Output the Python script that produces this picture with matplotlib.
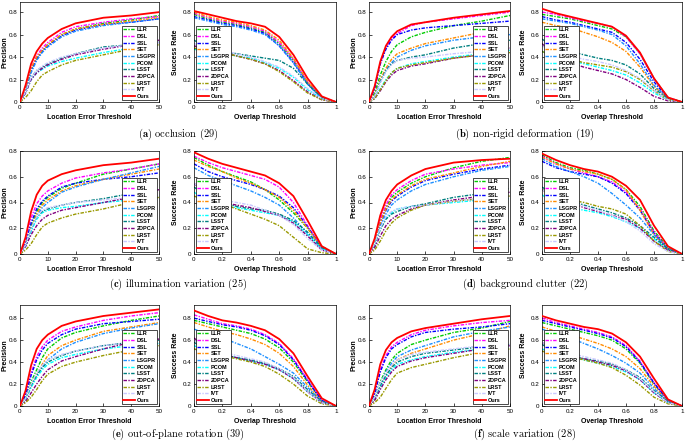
import matplotlib
matplotlib.use('Agg')
import matplotlib.pyplot as plt

plt.rcParams['font.family'] = ['Liberation Sans', 'DejaVu Sans']
plt.rcParams['mathtext.fontset'] = 'cm'

methods = ['LLR', 'DSL', 'SSL', 'SET', 'LSGPR', 'PCOM', 'LSST', '2DPCA', 'LRST', 'IVT', 'Ours']
colors = ['#00cc00', '#ff00ff', '#0000ff', '#ff8c00', '#1e90ff', '#00ffff',
          '#008080', '#800080', '#999900', '#c8c8ff', '#ff0000']

# sample positions of the curves
prec_x = [0, 2, 4, 6, 8, 10, 15, 20, 30, 40, 50]
succ_x = [0, 0.1, 0.2, 0.3, 0.4, 0.5, 0.6, 0.7, 0.8, 0.9, 1.0]

# ---- (a) occlusion
prec_a = {
    'LLR':   [0, 0.10, 0.28, 0.39, 0.46, 0.51, 0.60, 0.65, 0.70, 0.73, 0.77],
    'DSL':   [0, 0.11, 0.30, 0.41, 0.48, 0.53, 0.62, 0.67, 0.71, 0.74, 0.76],
    'SSL':   [0, 0.10, 0.28, 0.38, 0.45, 0.50, 0.59, 0.64, 0.69, 0.71, 0.74],
    'SET':   [0, 0.12, 0.30, 0.40, 0.46, 0.51, 0.60, 0.65, 0.69, 0.72, 0.75],
    'LSGPR': [0, 0.09, 0.26, 0.37, 0.44, 0.49, 0.58, 0.63, 0.68, 0.71, 0.74],
    'PCOM':  [0, 0.08, 0.20, 0.26, 0.29, 0.32, 0.36, 0.39, 0.44, 0.48, 0.51],
    'LSST':  [0, 0.09, 0.22, 0.28, 0.31, 0.34, 0.39, 0.43, 0.49, 0.51, 0.53],
    '2DPCA': [0, 0.08, 0.20, 0.26, 0.30, 0.33, 0.38, 0.42, 0.47, 0.51, 0.55],
    'LRST':  [0, 0.04, 0.10, 0.18, 0.24, 0.27, 0.33, 0.37, 0.42, 0.47, 0.51],
    'IVT':   [0, 0.09, 0.22, 0.28, 0.32, 0.35, 0.40, 0.43, 0.48, 0.51, 0.53],
    'Ours':  [0, 0.15, 0.34, 0.45, 0.52, 0.57, 0.65, 0.70, 0.75, 0.77, 0.80],
}
succ_a = {
    'LLR':   [0.78, 0.74, 0.71, 0.69, 0.66, 0.62, 0.52, 0.37, 0.17, 0.04, 0],
    'DSL':   [0.79, 0.75, 0.72, 0.70, 0.67, 0.63, 0.53, 0.38, 0.18, 0.04, 0],
    'SSL':   [0.76, 0.73, 0.70, 0.68, 0.65, 0.61, 0.50, 0.35, 0.16, 0.03, 0],
    'SET':   [0.80, 0.76, 0.73, 0.71, 0.68, 0.64, 0.55, 0.39, 0.18, 0.04, 0],
    'LSGPR': [0.75, 0.72, 0.69, 0.67, 0.64, 0.60, 0.50, 0.35, 0.16, 0.03, 0],
    'PCOM':  [0.47, 0.44, 0.43, 0.41, 0.39, 0.35, 0.30, 0.22, 0.11, 0.03, 0],
    'LSST':  [0.55, 0.48, 0.45, 0.43, 0.41, 0.39, 0.37, 0.30, 0.16, 0.04, 0],
    '2DPCA': [0.50, 0.46, 0.44, 0.41, 0.38, 0.34, 0.28, 0.19, 0.09, 0.02, 0],
    'LRST':  [0.48, 0.45, 0.44, 0.41, 0.38, 0.34, 0.27, 0.18, 0.08, 0.02, 0],
    'IVT':   [0.52, 0.48, 0.46, 0.43, 0.40, 0.36, 0.31, 0.23, 0.12, 0.03, 0],
    'Ours':  [0.81, 0.78, 0.75, 0.72, 0.70, 0.67, 0.58, 0.42, 0.21, 0.05, 0],
}

# ---- (b) non-rigid deformation
prec_b = {
    'LLR':   [0, 0.08, 0.24, 0.36, 0.45, 0.51, 0.58, 0.62, 0.68, 0.72, 0.77],
    'DSL':   [0, 0.12, 0.34, 0.48, 0.56, 0.61, 0.68, 0.71, 0.74, 0.77, 0.80],
    'SSL':   [0, 0.12, 0.34, 0.47, 0.55, 0.60, 0.64, 0.66, 0.68, 0.70, 0.72],
    'SET':   [0, 0.06, 0.20, 0.30, 0.38, 0.43, 0.48, 0.52, 0.57, 0.62, 0.66],
    'LSGPR': [0, 0.05, 0.18, 0.28, 0.35, 0.40, 0.46, 0.50, 0.55, 0.58, 0.60],
    'PCOM':  [0, 0.03, 0.12, 0.20, 0.26, 0.30, 0.34, 0.36, 0.40, 0.43, 0.46],
    'LSST':  [0, 0.05, 0.18, 0.28, 0.34, 0.37, 0.40, 0.42, 0.48, 0.52, 0.55],
    '2DPCA': [0, 0.03, 0.10, 0.18, 0.24, 0.28, 0.32, 0.34, 0.39, 0.42, 0.48],
    'LRST':  [0, 0.03, 0.11, 0.19, 0.26, 0.30, 0.33, 0.35, 0.39, 0.42, 0.44],
    'IVT':   [0, 0.05, 0.17, 0.27, 0.33, 0.37, 0.39, 0.40, 0.43, 0.45, 0.47],
    'Ours':  [0, 0.14, 0.36, 0.50, 0.58, 0.63, 0.69, 0.71, 0.75, 0.78, 0.81],
}
succ_b = {
    'LLR':   [0.78, 0.76, 0.74, 0.71, 0.68, 0.65, 0.58, 0.43, 0.21, 0.04, 0],
    'DSL':   [0.80, 0.78, 0.75, 0.72, 0.70, 0.67, 0.58, 0.43, 0.21, 0.04, 0],
    'SSL':   [0.76, 0.73, 0.71, 0.68, 0.65, 0.62, 0.53, 0.38, 0.18, 0.03, 0],
    'SET':   [0.71, 0.68, 0.66, 0.62, 0.58, 0.53, 0.45, 0.31, 0.14, 0.03, 0],
    'LSGPR': [0.74, 0.72, 0.70, 0.67, 0.64, 0.60, 0.50, 0.34, 0.15, 0.03, 0],
    'PCOM':  [0.45, 0.40, 0.37, 0.34, 0.31, 0.28, 0.24, 0.17, 0.08, 0.02, 0],
    'LSST':  [0.56, 0.48, 0.45, 0.42, 0.39, 0.37, 0.33, 0.25, 0.12, 0.03, 0],
    '2DPCA': [0.52, 0.40, 0.35, 0.31, 0.28, 0.25, 0.20, 0.13, 0.05, 0.01, 0],
    'LRST':  [0.45, 0.40, 0.38, 0.35, 0.33, 0.31, 0.27, 0.20, 0.10, 0.02, 0],
    'IVT':   [0.50, 0.44, 0.41, 0.38, 0.36, 0.33, 0.28, 0.21, 0.10, 0.02, 0],
    'Ours':  [0.83, 0.79, 0.76, 0.73, 0.70, 0.67, 0.59, 0.44, 0.21, 0.04, 0],
}

# ---- (c) illumination variation
prec_c = {
    'LLR':   [0, 0.08, 0.22, 0.33, 0.40, 0.44, 0.51, 0.55, 0.62, 0.66, 0.70],
    'DSL':   [0, 0.10, 0.28, 0.39, 0.45, 0.49, 0.55, 0.59, 0.63, 0.66, 0.70],
    'SSL':   [0, 0.08, 0.24, 0.35, 0.41, 0.45, 0.52, 0.55, 0.58, 0.60, 0.63],
    'SET':   [0, 0.07, 0.20, 0.31, 0.38, 0.42, 0.49, 0.53, 0.58, 0.62, 0.66],
    'LSGPR': [0, 0.06, 0.18, 0.29, 0.36, 0.40, 0.48, 0.52, 0.58, 0.63, 0.68],
    'PCOM':  [0, 0.06, 0.18, 0.27, 0.32, 0.34, 0.36, 0.37, 0.40, 0.42, 0.44],
    'LSST':  [0, 0.07, 0.20, 0.29, 0.33, 0.35, 0.38, 0.40, 0.43, 0.47, 0.50],
    '2DPCA': [0, 0.06, 0.15, 0.22, 0.27, 0.30, 0.34, 0.36, 0.40, 0.44, 0.50],
    'LRST':  [0, 0.03, 0.08, 0.15, 0.21, 0.24, 0.28, 0.31, 0.35, 0.40, 0.44],
    'IVT':   [0, 0.07, 0.20, 0.29, 0.34, 0.36, 0.38, 0.40, 0.42, 0.44, 0.45],
    'Ours':  [0, 0.13, 0.33, 0.46, 0.53, 0.57, 0.62, 0.65, 0.69, 0.71, 0.74],
}
succ_c = {
    'LLR':   [0.75, 0.69, 0.64, 0.60, 0.56, 0.50, 0.42, 0.32, 0.20, 0.06, 0],
    'DSL':   [0.76, 0.71, 0.67, 0.64, 0.61, 0.58, 0.52, 0.40, 0.22, 0.05, 0],
    'SSL':   [0.70, 0.64, 0.60, 0.57, 0.54, 0.50, 0.45, 0.36, 0.21, 0.05, 0],
    'SET':   [0.73, 0.68, 0.64, 0.59, 0.55, 0.50, 0.44, 0.34, 0.20, 0.05, 0],
    'LSGPR': [0.67, 0.61, 0.57, 0.53, 0.49, 0.44, 0.38, 0.28, 0.16, 0.04, 0],
    'PCOM':  [0.48, 0.41, 0.38, 0.36, 0.34, 0.32, 0.30, 0.25, 0.15, 0.04, 0],
    'LSST':  [0.52, 0.44, 0.40, 0.37, 0.35, 0.34, 0.31, 0.26, 0.17, 0.05, 0],
    '2DPCA': [0.55, 0.44, 0.40, 0.38, 0.36, 0.33, 0.30, 0.24, 0.14, 0.03, 0],
    'LRST':  [0.45, 0.41, 0.39, 0.35, 0.31, 0.27, 0.22, 0.13, 0.04, 0.01, 0],
    'IVT':   [0.55, 0.46, 0.42, 0.40, 0.38, 0.34, 0.30, 0.23, 0.12, 0.03, 0],
    'Ours':  [0.79, 0.74, 0.70, 0.67, 0.64, 0.61, 0.55, 0.45, 0.26, 0.06, 0],
}

# ---- (d) background clutter
prec_d = {
    'LLR':   [0, 0.09, 0.25, 0.36, 0.44, 0.48, 0.55, 0.60, 0.67, 0.72, 0.75],
    'DSL':   [0, 0.10, 0.27, 0.38, 0.46, 0.50, 0.57, 0.62, 0.66, 0.69, 0.71],
    'SSL':   [0, 0.08, 0.23, 0.34, 0.41, 0.45, 0.52, 0.57, 0.62, 0.66, 0.69],
    'SET':   [0, 0.09, 0.24, 0.35, 0.42, 0.46, 0.53, 0.58, 0.63, 0.68, 0.72],
    'LSGPR': [0, 0.07, 0.21, 0.31, 0.38, 0.42, 0.49, 0.54, 0.60, 0.65, 0.68],
    'PCOM':  [0, 0.08, 0.20, 0.28, 0.32, 0.35, 0.37, 0.38, 0.40, 0.42, 0.43],
    'LSST':  [0, 0.07, 0.19, 0.27, 0.31, 0.33, 0.37, 0.39, 0.44, 0.47, 0.51],
    '2DPCA': [0, 0.05, 0.14, 0.22, 0.27, 0.30, 0.35, 0.38, 0.42, 0.45, 0.48],
    'LRST':  [0, 0.03, 0.10, 0.18, 0.24, 0.28, 0.34, 0.38, 0.41, 0.43, 0.45],
    'IVT':   [0, 0.08, 0.20, 0.29, 0.33, 0.35, 0.37, 0.38, 0.41, 0.43, 0.45],
    'Ours':  [0, 0.12, 0.30, 0.42, 0.49, 0.54, 0.61, 0.66, 0.71, 0.73, 0.74],
}
succ_d = {
    'LLR':   [0.77, 0.71, 0.67, 0.65, 0.62, 0.58, 0.50, 0.37, 0.18, 0.05, 0],
    'DSL':   [0.76, 0.70, 0.66, 0.63, 0.60, 0.56, 0.48, 0.35, 0.17, 0.04, 0],
    'SSL':   [0.72, 0.67, 0.64, 0.62, 0.60, 0.55, 0.47, 0.34, 0.16, 0.04, 0],
    'SET':   [0.75, 0.70, 0.66, 0.64, 0.62, 0.58, 0.50, 0.34, 0.15, 0.04, 0],
    'LSGPR': [0.74, 0.68, 0.64, 0.60, 0.55, 0.47, 0.38, 0.28, 0.15, 0.04, 0],
    'PCOM':  [0.46, 0.38, 0.36, 0.34, 0.32, 0.29, 0.25, 0.20, 0.12, 0.03, 0],
    'LSST':  [0.52, 0.45, 0.42, 0.38, 0.35, 0.32, 0.28, 0.22, 0.13, 0.04, 0],
    '2DPCA': [0.50, 0.44, 0.40, 0.36, 0.33, 0.30, 0.27, 0.20, 0.10, 0.03, 0],
    'LRST':  [0.50, 0.45, 0.42, 0.40, 0.37, 0.35, 0.31, 0.22, 0.10, 0.02, 0],
    'IVT':   [0.50, 0.44, 0.41, 0.37, 0.34, 0.30, 0.25, 0.18, 0.08, 0.02, 0],
    'Ours':  [0.78, 0.73, 0.69, 0.66, 0.64, 0.60, 0.53, 0.42, 0.22, 0.06, 0],
}

# ---- (e) out-of-plane rotation
prec_e = {
    'LLR':   [0, 0.08, 0.22, 0.33, 0.44, 0.52, 0.62, 0.67, 0.73, 0.78, 0.82],
    'DSL':   [0, 0.11, 0.30, 0.45, 0.54, 0.60, 0.68, 0.72, 0.78, 0.82, 0.85],
    'SSL':   [0, 0.10, 0.28, 0.42, 0.51, 0.57, 0.65, 0.70, 0.75, 0.77, 0.79],
    'SET':   [0, 0.06, 0.18, 0.29, 0.38, 0.46, 0.55, 0.60, 0.68, 0.72, 0.76],
    'LSGPR': [0, 0.06, 0.18, 0.28, 0.36, 0.42, 0.52, 0.58, 0.66, 0.71, 0.75],
    'PCOM':  [0, 0.06, 0.17, 0.26, 0.33, 0.38, 0.44, 0.47, 0.52, 0.55, 0.57],
    'LSST':  [0, 0.07, 0.19, 0.28, 0.35, 0.40, 0.46, 0.50, 0.55, 0.58, 0.60],
    '2DPCA': [0, 0.04, 0.12, 0.20, 0.27, 0.33, 0.41, 0.45, 0.52, 0.58, 0.61],
    'LRST':  [0, 0.03, 0.08, 0.15, 0.23, 0.29, 0.36, 0.40, 0.46, 0.51, 0.55],
    'IVT':   [0, 0.07, 0.20, 0.30, 0.37, 0.42, 0.47, 0.50, 0.55, 0.58, 0.60],
    'Ours':  [0, 0.14, 0.37, 0.52, 0.60, 0.65, 0.73, 0.77, 0.82, 0.85, 0.88],
}
succ_e = {
    'LLR':   [0.78, 0.75, 0.72, 0.69, 0.66, 0.61, 0.53, 0.40, 0.22, 0.05, 0],
    'DSL':   [0.83, 0.79, 0.75, 0.73, 0.70, 0.65, 0.57, 0.43, 0.24, 0.05, 0],
    'SSL':   [0.80, 0.77, 0.74, 0.72, 0.69, 0.64, 0.56, 0.42, 0.23, 0.05, 0],
    'SET':   [0.76, 0.72, 0.68, 0.65, 0.61, 0.56, 0.48, 0.36, 0.19, 0.04, 0],
    'LSGPR': [0.70, 0.66, 0.62, 0.57, 0.52, 0.45, 0.38, 0.30, 0.17, 0.04, 0],
    'PCOM':  [0.55, 0.49, 0.47, 0.44, 0.41, 0.38, 0.33, 0.25, 0.13, 0.03, 0],
    'LSST':  [0.58, 0.50, 0.47, 0.44, 0.42, 0.39, 0.34, 0.27, 0.15, 0.04, 0],
    '2DPCA': [0.62, 0.51, 0.47, 0.44, 0.41, 0.38, 0.33, 0.25, 0.13, 0.03, 0],
    'LRST':  [0.52, 0.48, 0.46, 0.43, 0.40, 0.36, 0.29, 0.20, 0.09, 0.02, 0],
    'IVT':   [0.60, 0.52, 0.49, 0.46, 0.43, 0.40, 0.34, 0.26, 0.13, 0.03, 0],
    'Ours':  [0.87, 0.82, 0.78, 0.76, 0.73, 0.69, 0.61, 0.48, 0.27, 0.07, 0],
}

# ---- (f) scale variation
prec_f = {
    'LLR':   [0, 0.08, 0.22, 0.33, 0.42, 0.48, 0.56, 0.60, 0.67, 0.71, 0.77],
    'DSL':   [0, 0.12, 0.33, 0.46, 0.54, 0.58, 0.65, 0.69, 0.73, 0.76, 0.78],
    'SSL':   [0, 0.11, 0.31, 0.44, 0.52, 0.56, 0.63, 0.67, 0.70, 0.72, 0.75],
    'SET':   [0, 0.06, 0.18, 0.28, 0.36, 0.42, 0.48, 0.52, 0.60, 0.66, 0.73],
    'LSGPR': [0, 0.07, 0.20, 0.31, 0.39, 0.45, 0.51, 0.55, 0.63, 0.68, 0.72],
    'PCOM':  [0, 0.06, 0.17, 0.26, 0.33, 0.38, 0.42, 0.45, 0.49, 0.52, 0.54],
    'LSST':  [0, 0.07, 0.19, 0.28, 0.35, 0.40, 0.45, 0.48, 0.51, 0.54, 0.56],
    '2DPCA': [0, 0.05, 0.15, 0.24, 0.31, 0.36, 0.41, 0.44, 0.48, 0.52, 0.55],
    'LRST':  [0, 0.03, 0.08, 0.16, 0.24, 0.30, 0.35, 0.38, 0.44, 0.49, 0.52],
    'IVT':   [0, 0.08, 0.21, 0.30, 0.37, 0.42, 0.47, 0.49, 0.52, 0.55, 0.56],
    'Ours':  [0, 0.15, 0.38, 0.51, 0.58, 0.62, 0.68, 0.71, 0.75, 0.79, 0.82],
}
succ_f = {
    'LLR':   [0.76, 0.73, 0.70, 0.67, 0.64, 0.60, 0.52, 0.39, 0.20, 0.05, 0],
    'DSL':   [0.80, 0.76, 0.73, 0.70, 0.67, 0.63, 0.55, 0.41, 0.21, 0.05, 0],
    'SSL':   [0.78, 0.75, 0.72, 0.69, 0.66, 0.62, 0.54, 0.40, 0.21, 0.05, 0],
    'SET':   [0.72, 0.68, 0.65, 0.61, 0.57, 0.52, 0.45, 0.34, 0.18, 0.04, 0],
    'LSGPR': [0.70, 0.66, 0.62, 0.57, 0.52, 0.46, 0.39, 0.30, 0.16, 0.04, 0],
    'PCOM':  [0.52, 0.47, 0.45, 0.42, 0.39, 0.36, 0.31, 0.24, 0.12, 0.03, 0],
    'LSST':  [0.56, 0.49, 0.46, 0.43, 0.41, 0.38, 0.33, 0.26, 0.14, 0.04, 0],
    '2DPCA': [0.58, 0.49, 0.46, 0.43, 0.40, 0.37, 0.32, 0.24, 0.12, 0.03, 0],
    'LRST':  [0.50, 0.46, 0.45, 0.42, 0.39, 0.35, 0.28, 0.19, 0.08, 0.02, 0],
    'IVT':   [0.58, 0.51, 0.48, 0.45, 0.42, 0.39, 0.33, 0.25, 0.13, 0.03, 0],
    'Ours':  [0.82, 0.78, 0.75, 0.72, 0.70, 0.66, 0.58, 0.45, 0.25, 0.06, 0],
}

captions = [('a', 'occlusion (29)'), ('b', 'non-rigid deformation (19)'),
            ('c', 'illumination variation (25)'), ('d', 'background clutter (22)'),
            ('e', 'out-of-plane rotation (39)'), ('f', 'scale variation (28)')]
panels = [(prec_a, succ_a), (prec_b, succ_b), (prec_c, succ_c),
          (prec_d, succ_d), (prec_e, succ_e), (prec_f, succ_f)]
row_ylim = [0.89, 0.80, 0.92]

W, H = 685, 445
fig = plt.figure(figsize=(W / 100, H / 100), dpi=100)

# pixel boxes: (left, width) per column, (top, bottom) per row
cols = [(20, 139), (194, 142), (369, 141), (542, 140)]
rows = [(2, 102), (151, 254), (305, 406)]
cap_y = [134, 284, 434]
cap_x = [178, 525]


def style_axes(ax, ylab, xlab, ytop, xticks, xticklabels, width, ylab_off):
    ax.set_ylim(0, ytop)
    ax.set_yticks([0, 0.2, 0.4, 0.6, 0.8])
    ax.set_yticklabels(['0', '0.2', '0.4', '0.6', '0.8'])
    ax.set_xticks(xticks)
    ax.set_xticklabels(xticklabels)
    ax.tick_params(direction='in', length=2, width=0.5, labelsize=4.5, pad=2)
    for s in ax.spines.values():
        s.set_linewidth(0.5)
    ax.set_xlabel(xlab, fontsize=5, fontweight='bold', labelpad=3)
    ax.set_ylabel(ylab, fontsize=5, fontweight='bold')
    # right edge of the rotated y label, in px left of the axes
    ax.yaxis.set_label_coords(-ylab_off / width, 0.5)


for i, (prec, succ) in enumerate(panels):
    r, c = i // 2, i % 2
    top, bot = rows[r]
    for k, data in enumerate((prec, succ)):
        left, width = cols[2 * c + k]
        ax = fig.add_axes([left / W, 1 - bot / H, width / W, (bot - top) / H])
        xs = prec_x if k == 0 else succ_x
        for m, col in zip(methods, colors):
            if m == 'Ours':
                ax.plot(xs, data[m], color=col, lw=1.3, label=m, zorder=5)
            else:
                ax.plot(xs, data[m], color=col, lw=1.0, ls=(0, (2.5, 1, 1, 1)), label=m)
        if k == 0:
            ax.set_xlim(0, 50)
            style_axes(ax, 'Precision', 'Location Error Threshold', row_ylim[r],
                       [0, 10, 20, 30, 40, 50], ['0', '10', '20', '30', '40', '50'],
                       width, 11.5)
            loc, anchor = 'lower right', (1.0, 0.0)
        else:
            ax.set_xlim(0, 1)
            style_axes(ax, 'Success Rate', 'Overlap Threshold', row_ylim[r],
                       [0, 0.2, 0.4, 0.6, 0.8, 1.0], ['0', '0.2', '0.4', '0.6', '0.8', '1'],
                       width, 15)
            loc, anchor = 'lower left', (0.0, 0.0)
        leg = ax.legend(loc=loc, bbox_to_anchor=anchor, frameon=True,
                        fancybox=False, framealpha=1, edgecolor='black',
                        handlelength=2.2, handletextpad=0.3, labelspacing=0.3,
                        borderpad=0.25, borderaxespad=0.3,
                        prop={'weight': 'bold', 'size': 4})
        leg.get_frame().set_linewidth(0.5)
    letter, text = captions[i]
    fig.text(cap_x[c] / W, 1 - cap_y[r] / H, r'$\mathbf{(' + letter + r')}$ ' + text,
             ha='center', va='center', fontsize=7.5, family='cmr10')

fig.savefig('out.png', dpi=100)
